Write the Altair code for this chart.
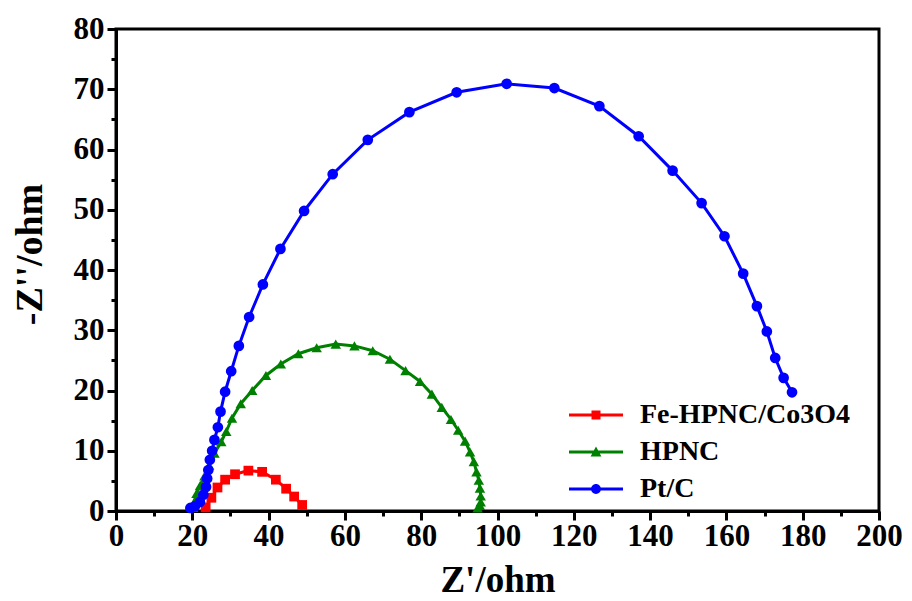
import altair as alt
import pandas as pd

series_names = ["Fe-HPNC/Co3O4", "HPNC", "Pt/C"]
series_colors = ["#ff0000", "#008000", "#0000ff"]
series_shapes = ["square", "triangle-up", "circle"]
series_sizes = [95, 110, 115]

fe_x = [23.5, 25.0, 26.6, 28.6, 31.2, 34.7, 38.3, 41.9, 44.6, 46.7, 48.8]
fe_y = [0.6, 2.2, 3.9, 5.2, 6.1, 6.7, 6.5, 5.2, 3.7, 2.4, 1.0]

hpnc_x = [20.2, 20.6, 21.1, 22.0, 23.2, 24.4, 25.8, 27.6, 28.9, 30.4, 32.7, 35.7,
          39.3, 43.2, 47.8, 52.6, 57.6, 62.5, 67.3, 71.8, 75.9, 79.7, 82.8, 85.4,
          87.8, 89.7, 91.5, 92.8, 93.8, 94.5, 95.1, 95.4, 95.6, 95.6, 95.4, 94.8]
hpnc_y = [0.6, 1.6, 2.9, 4.2, 5.8, 7.6, 9.6, 11.5, 13.2, 15.4, 17.8, 20.0,
          22.5, 24.4, 26.1, 27.1, 27.7, 27.4, 26.6, 25.2, 23.3, 21.5, 19.4, 17.2,
          15.2, 13.4, 11.6, 9.8, 8.2, 6.5, 5.1, 3.8, 2.5, 1.5, 0.9, 0.5]

ptc_x = [19.5, 20.7, 22.0, 22.9, 23.6, 23.9, 24.2, 24.6, 25.2, 25.8, 26.7, 27.4,
         28.6, 30.2, 32.2, 34.9, 38.5, 43.1, 49.3, 56.8, 66.0, 76.9, 89.3, 102.4,
         114.9, 126.7, 137.0, 145.9, 153.5, 159.5, 164.4, 168.0, 170.6, 172.8,
         175.0, 177.2]
ptc_y = [0.5, 0.8, 1.5, 2.7, 4.0, 5.4, 6.8, 8.5, 10.0, 11.8, 13.9, 16.5,
         19.8, 23.2, 27.4, 32.2, 37.6, 43.5, 49.8, 55.9, 61.6, 66.2, 69.5, 70.9,
         70.2, 67.2, 62.2, 56.5, 51.1, 45.6, 39.4, 34.0, 29.8, 25.4, 22.1, 19.7]

x_ticks = list(range(0, 201, 10))
y_ticks = list(range(0, 81, 5))

rows = []
for name, xs, ys in zip(series_names, [fe_x, hpnc_x, ptc_x], [fe_y, hpnc_y, ptc_y]):
    for i, (xv, yv) in enumerate(zip(xs, ys)):
        rows.append({"series": name, "zr": xv, "zi": yv, "idx": i})
df = pd.DataFrame(rows)

FONT = "Liberation Serif"

x_scale = alt.Scale(domain=[0, 200], nice=False, zero=False)
y_scale = alt.Scale(domain=[0, 80], nice=False, zero=False)

x_axis = alt.Axis(
    values=x_ticks,
    labelExpr="datum.value % 20 === 0 ? datum.label : ''",
    tickSize={"condition": {"test": "datum.value % 20 === 0", "value": 9}, "value": 5},
    tickWidth=3, tickColor="black", domainWidth=3, domainColor="black",
    labelFont=FONT, labelFontSize=31, labelFontWeight="bold", labelColor="black",
    labelPadding=1, labelOverlap=False, labelFlush=False, grid=False,
    title="Z'/ohm", titleFont=FONT, titleFontSize=37, titleFontWeight="bold",
    titleColor="black", titleBaseline="alphabetic", titleY=80,
)
y_axis = alt.Axis(
    values=y_ticks,
    labelExpr="datum.value % 10 === 0 ? datum.label : ''",
    tickSize={"condition": {"test": "datum.value % 10 === 0", "value": 9}, "value": 5},
    tickWidth=3, tickColor="black", domainWidth=3, domainColor="black",
    labelFont=FONT, labelFontSize=31, labelFontWeight="bold", labelColor="black",
    labelPadding=3, labelOverlap=False, labelFlush=False, grid=False,
    title="-Z''/ohm", titleFont=FONT, titleFontSize=38, titleFontWeight="bold",
    titleColor="black", titleAngle=-90, titleBaseline="middle", titleX=-86, titleY=225,
)

xenc = alt.X("zr:Q", scale=x_scale, axis=x_axis)
yenc = alt.Y("zi:Q", scale=y_scale, axis=y_axis)

layers = []
for name, col, shp, sz in zip(series_names, series_colors, series_shapes, series_sizes):
    base = alt.Chart(df).transform_filter(alt.datum.series == name)
    line = base.mark_line(strokeWidth=3, color=col).encode(
        x=xenc, y=yenc, order="idx:Q"
    )
    pts = base.mark_point(shape=shp, filled=True, size=sz, opacity=1, color=col).encode(
        x=xenc, y=yenc,
    )
    layers += [line, pts]

line_part = "M-6,-0.32H6V0.32H-6Z "
legend_paths = [
    line_part + "M-1,-1H1V1H-1Z",
    line_part + "M0,-1.2L1.2,1L-1.2,1Z",
    line_part + "M-1.1,0A1.1,1.1,0,1,1,1.1,0A1.1,1.1,0,1,1,-1.1,0Z",
]

legend_def = alt.Legend(
    title=None, orient="none", legendX=466, legendY=372,
    labelFont=FONT, labelFontSize=28, labelFontWeight="bold", labelColor="black",
    symbolSize=81, symbolStrokeWidth=0, symbolOpacity=1, labelOffset=30,
    rowPadding=9, padding=0, labelLimit=400,
)

legend_layer = alt.Chart(df).transform_filter("false").mark_point(filled=True, opacity=1).encode(
    color=alt.Color("series:N", scale=alt.Scale(domain=series_names, range=series_colors),
                    legend=legend_def),
    shape=alt.Shape("series:N", scale=alt.Scale(domain=series_names, range=legend_paths),
                    legend=legend_def),
)
layers.append(legend_layer)

chart = alt.layer(*layers).properties(
    width=763, height=482,
    background="white",
    autosize=alt.AutoSizeParams(type="none"),
    padding={"left": 116, "top": 29, "right": 33, "bottom": 90},
).configure_view(stroke="black", strokeWidth=3)

chart.save("out.html", embed_options={"renderer": "svg", "actions": False})
